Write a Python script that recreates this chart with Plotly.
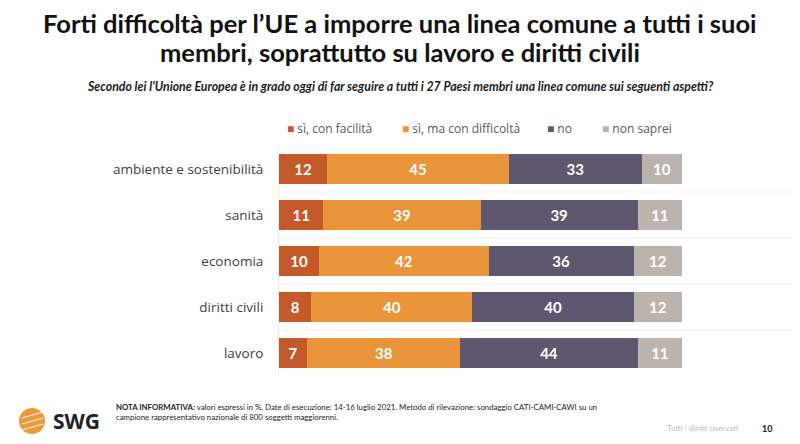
import plotly.graph_objects as go

categories = ["ambiente e sostenibilità", "sanità", "economia", "diritti civili", "lavoro"]
series_names = ["sì, con facilità", "sì, ma con difficoltà", "no", "non saprei"]
si_facilita = [12, 11, 10, 8, 7]
si_difficolta = [45, 39, 42, 40, 38]
no_vals = [33, 39, 36, 40, 44]
non_saprei = [10, 11, 12, 12, 11]
colors = ["#C4592A", "#E9963B", "#5F566F", "#BDB3AD"]
title_lines = ["Forti difficoltà per l’UE a imporre una linea comune a tutti i suoi",
               "membri, soprattutto su lavoro e diritti civili"]

series = [si_facilita, si_difficolta, no_vals, non_saprei]

fig = go.Figure()
for name, vals, col in zip(series_names, series, colors):
    fig.add_trace(go.Bar(
        y=categories, x=vals, name=name, orientation="h",
        marker=dict(color=col, line=dict(width=0)),
        text=[str(v) for v in vals], textposition="inside",
        insidetextanchor="middle", textangle=0, constraintext="none",
        textfont=dict(family="Lato", size=15, color="white", weight="bold"),
        showlegend=False,
    ))

# page body has an 8px margin: design in page coords, subtract offset
OFF = 8
W, H = 800 - OFF, 444 - OFF
L, R, T, B = 279 - OFF, 118, 146 - OFF, 68
pw = W - L - R
ph = H - T - B

fig.update_layout(
    width=W, height=H, barmode="stack", bargap=0.35,
    margin=dict(l=L, r=R, t=T, b=B),
    paper_bgcolor="white", plot_bgcolor="white",
    xaxis=dict(range=[0, 100], visible=False, fixedrange=True),
    yaxis=dict(categoryorder="array", categoryarray=categories, autorange="reversed",
               showgrid=False, zeroline=False, showline=True, linecolor="#EDEDED", linewidth=1,
               ticks="", ticklabelstandoff=12,
               tickfont=dict(family="Open Sans", size=13.5, color="#404040")),
    font=dict(family="Open Sans"),
)

def px(x):
    return (x - OFF - L) / pw

def py(y):
    return 1 - (y - OFF - T) / ph

# row separators
for i in range(len(categories) - 1):
    fig.add_shape(type="line", xref="paper", yref="y", x0=0, x1=px(792),
                  y0=i + 0.5, y1=i + 0.5, line=dict(color="#EDEDED", width=1))

# legend built from series names and colors
leg_x = [285, 400, 545, 600]
for name, col, lx in zip(series_names, colors, leg_x):
    fig.add_annotation(xref="paper", yref="paper", x=px(lx), y=py(128), xanchor="left", yanchor="middle",
                       text=f"<span style='color:{col}'>■</span> {name}", showarrow=False,
                       font=dict(family="Open Sans", size=12, color="#595959"))

# title (one annotation per line)
for line, ty in zip(title_lines, [23, 52]):
    fig.add_annotation(xref="paper", yref="paper", x=px(400), y=py(ty), xanchor="center", yanchor="middle",
                       text=f"<b>{line}</b>", showarrow=False, borderpad=0,
                       font=dict(family="Lato", size=25.5, color="#111111"))
# subtitle
fig.add_annotation(xref="paper", yref="paper", x=px(400), y=py(87), xanchor="center", yanchor="middle",
                   text="<b><i>Secondo lei l'Unione Europea è in grado oggi di far seguire a tutti i 27 Paesi membri una linea comune sui seguenti aspetti?</i></b>",
                   showarrow=False, font=dict(family="Lato", size=12.3, color="#1a1a1a"))

# footer
fig.add_shape(type="circle", xref="paper", yref="paper", x0=px(19), x1=px(45), y0=py(434), y1=py(408),
              fillcolor="#EE9A3A", line=dict(width=0))
for yy in [414, 420, 426]:
    fig.add_shape(type="line", xref="paper", yref="paper", x0=px(22), x1=px(43), y0=py(yy + 4), y1=py(yy - 2),
                  line=dict(color="white", width=1))
fig.add_annotation(xref="paper", yref="paper", x=px(51), y=py(421), xanchor="left", yanchor="middle",
                   text="<b>SWG</b>", showarrow=False, font=dict(family="Open Sans", size=21, color="#222222"))
fig.add_annotation(xref="paper", yref="paper", x=px(114), y=py(412), xanchor="left", yanchor="middle", align="left",
                   text="<b>NOTA INFORMATIVA:</b> valori espressi in %. Date di esecuzione: 14-16 luglio 2021. Metodo di rilevazione: sondaggio CATI-CAMI-CAWI su un<br>campione rappresentativo nazionale di 800 soggetti maggiorenni.",
                   showarrow=False, font=dict(family="Lato", size=7.8, color="#222222"))
fig.add_annotation(xref="paper", yref="paper", x=px(740), y=py(428), xanchor="right", yanchor="middle",
                   text="Tutti i diritti riservati", showarrow=False, font=dict(family="Lato", size=8, color="#BBBBBB"))
fig.add_annotation(xref="paper", yref="paper", x=px(760), y=py(428), xanchor="left", yanchor="middle",
                   text="<b>10</b>", showarrow=False, font=dict(family="Lato", size=9, color="#222222"))

fig.write_html("out.html")
